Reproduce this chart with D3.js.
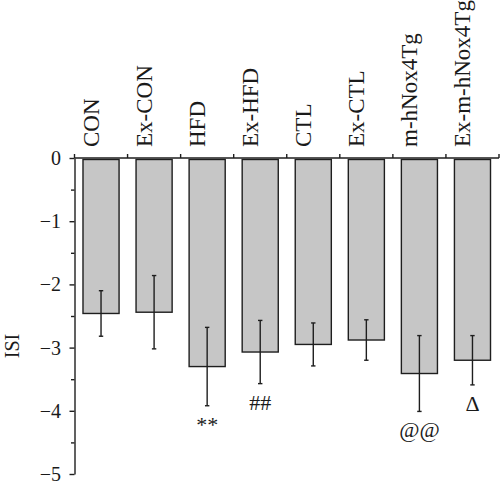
<!DOCTYPE html>
<meta charset="utf-8">
<head>
<style>
  body { margin: 0; background: #fff; }
  text { font-family: "Liberation Serif", "DejaVu Serif", serif; fill: #1a1a1a; }
</style>
</head>
<body>
<div id="chart"></div>
<script src="https://d3js.org/d3.v7.min.js"></script>
<script>
// data
var groups = ["CON", "Ex-CON", "HFD", "Ex-HFD", "CTL", "Ex-CTL", "m-hNox4Tg", "Ex-m-hNox4Tg"];
var means  = [-2.46, -2.44, -3.30, -3.07, -2.95, -2.88, -3.41, -3.20];
var errors = [0.36, 0.58, 0.62, 0.50, 0.34, 0.32, 0.60, 0.39];
var marks  = ["", "", "**", "##", "", "", "@@", "\u0394"];
var yTicks = [0, -1, -2, -3, -4, -5];
var yMinor = [-0.5, -1.5, -2.5, -3.5, -4.5];

var W = 500, H = 489;
var ink = "#1e1e1e";

var svg = d3.select("#chart").append("svg")
    .attr("width", W)
    .attr("height", H);

var x = d3.scaleBand()
    .domain(groups)
    .range([74.5, 499])
    .paddingInner(0.32)
    .paddingOuter(0.16);

var y = d3.scaleLinear()
    .domain([0, -5])
    .range([158, 474]);

// bars
svg.selectAll("rect.bar")
  .data(groups)
  .enter().append("rect")
    .attr("class", "bar")
    .attr("x", function(d) { return x(d); })
    .attr("y", y(0) + 1.5)
    .attr("width", x.bandwidth())
    .attr("height", function(d, i) { return y(means[i]) - y(0) - 1.5; })
    .attr("fill", "#c6c6c6")
    .attr("stroke", ink)
    .attr("stroke-width", 1.4);

// error bars
var eb = svg.selectAll("g.err")
  .data(groups)
  .enter().append("g")
    .attr("class", "err")
    .attr("transform", function(d) { return "translate(" + (x(d) + x.bandwidth() / 2) + ",0)"; })
    .attr("stroke", ink)
    .attr("stroke-width", 1.4);
eb.append("line")
    .attr("y1", function(d, i) { return y(means[i] + errors[i]); })
    .attr("y2", function(d, i) { return y(means[i] - errors[i]); });
eb.append("line")
    .attr("x1", -2.2).attr("x2", 2.2)
    .attr("y1", function(d, i) { return y(means[i] + errors[i]); })
    .attr("y2", function(d, i) { return y(means[i] + errors[i]); });
eb.append("line")
    .attr("x1", -2.2).attr("x2", 2.2)
    .attr("y1", function(d, i) { return y(means[i] - errors[i]); })
    .attr("y2", function(d, i) { return y(means[i] - errors[i]); });

// significance marks under the error bars
svg.selectAll("text.mark")
  .data(groups)
  .enter().append("text")
    .attr("class", "mark")
    .attr("x", function(d) { return x(d) + x.bandwidth() / 2; })
    .attr("y", function(d, i) { return y(means[i] - errors[i]) + 26; })
    .attr("text-anchor", "middle")
    .style("font-size", "22px")
    .text(function(d, i) { return marks[i]; });

// y axis
var yAxis = svg.append("g")
    .attr("transform", "translate(" + x.range()[0] + ",0)")
    .call(d3.axisLeft(y).tickValues(yTicks).tickFormat(d3.format("d"))
      .tickSize(5).tickSizeOuter(0).tickPadding(8.5));
yAxis.selectAll("text").style("font-size", "20px").attr("fill", "#1a1a1a");
yAxis.selectAll("line, path").attr("stroke", ink).attr("stroke-width", 1.4);

var yAxisMinor = svg.append("g")
    .attr("transform", "translate(" + x.range()[0] + ",0)")
    .call(d3.axisLeft(y).tickValues(yMinor).tickSize(3.5).tickFormat(""));
yAxisMinor.select(".domain").remove();
yAxisMinor.selectAll("line").attr("stroke", ink).attr("stroke-width", 1.4);

// top axis at zero with ticks between groups
svg.append("line")
    .attr("x1", x.range()[0]).attr("x2", x.range()[1])
    .attr("y1", y(0)).attr("y2", y(0))
    .attr("stroke", ink).attr("stroke-width", 1.4);
svg.selectAll("line.xtick")
  .data(d3.range(groups.length + 1))
  .enter().append("line")
    .attr("class", "xtick")
    .attr("x1", function(i) { return x.range()[0] + i * x.step(); })
    .attr("x2", function(i) { return x.range()[0] + i * x.step(); })
    .attr("y1", y(0)).attr("y2", y(0) - 4)
    .attr("stroke", ink).attr("stroke-width", 1.4);

// group labels, rotated
svg.selectAll("text.group")
  .data(groups)
  .enter().append("text")
    .attr("class", "group")
    .attr("transform", function(d) {
      return "translate(" + (x(d) + x.bandwidth() / 2 - 2) + "," + (y(0) - 11) + ") rotate(-90)";
    })
    .attr("text-anchor", "start")
    .style("font-size", "23px")
    .text(function(d) { return d; });

// y label
svg.append("text")
    .attr("transform", "translate(19,346) rotate(-90)")
    .attr("text-anchor", "middle")
    .style("font-size", "20px")
    .text("ISI");
</script>
</body>
